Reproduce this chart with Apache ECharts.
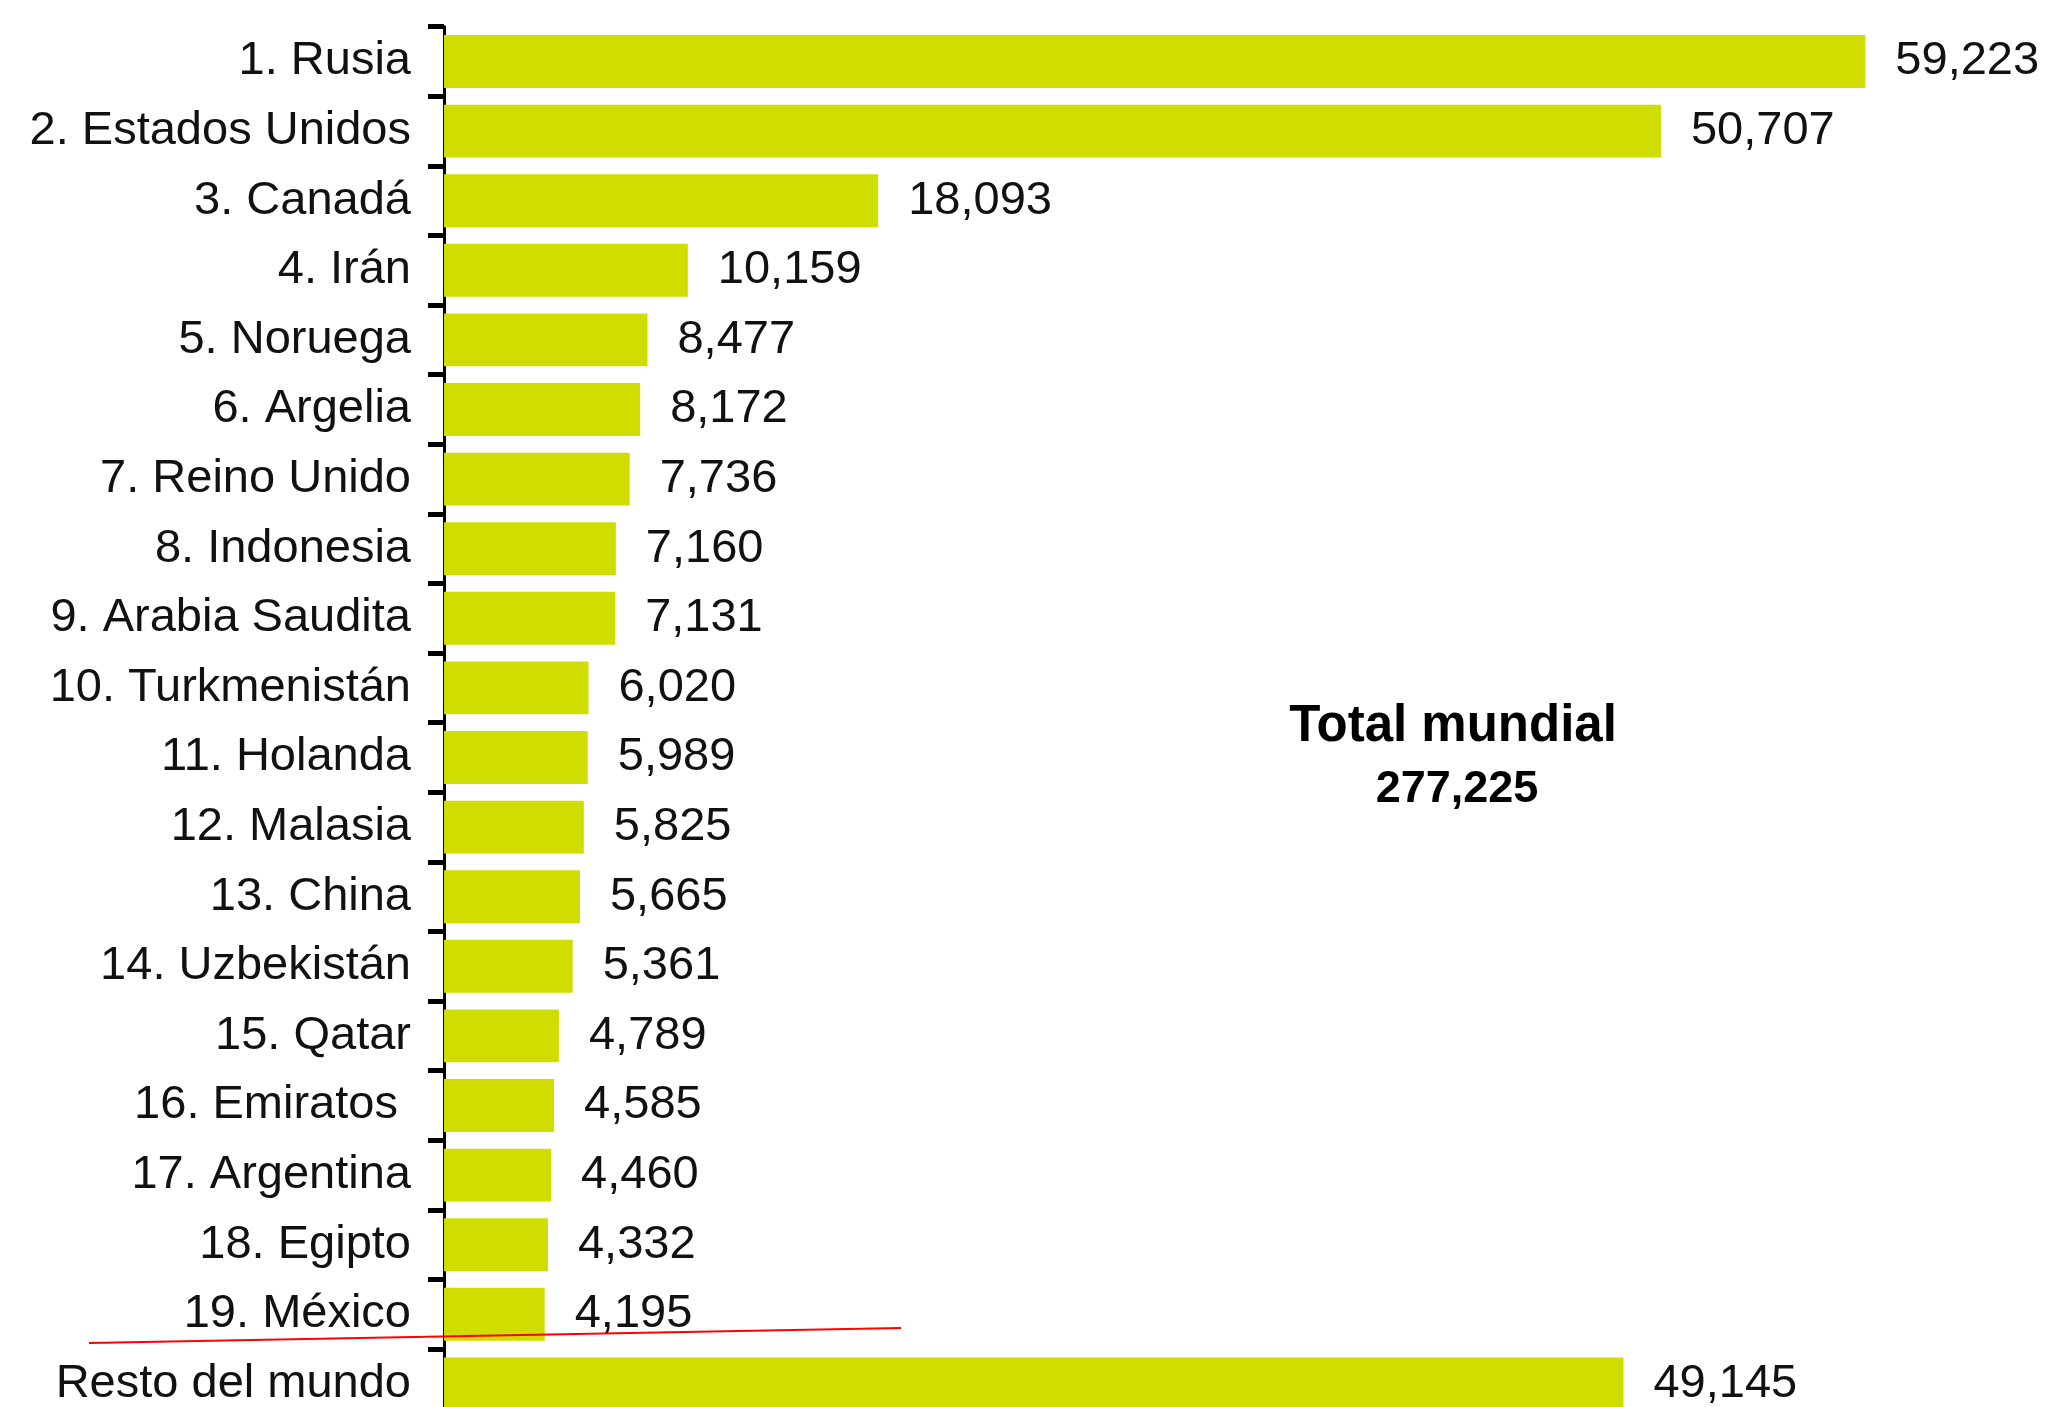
<!DOCTYPE html>
<html>
<head>
<meta charset="utf-8">
<title>Producción de gas natural</title>
<script src="https://cdn.jsdelivr.net/npm/echarts@6/dist/echarts.min.js"></script>
<style>
  html, body { margin: 0; padding: 0; background: #ffffff; }
  #chart { width: 2054px; height: 1407px; }
</style>
</head>
<body>
<div id="chart"></div>
<script>
// Country ranking, top to bottom
const categories = [
  '1. Rusia', '2. Estados Unidos', '3. Canadá', '4. Irán', '5. Noruega',
  '6. Argelia', '7. Reino Unido', '8. Indonesia', '9. Arabia Saudita',
  '10. Turkmenistán', '11. Holanda', '12. Malasia', '13. China',
  '14. Uzbekistán', '15. Qatar', '16. Emiratos ', '17. Argentina',
  '18. Egipto', '19. México', 'Resto del mundo'
];
const values = [
  59223, 50707, 18093, 10159, 8477,
  8172, 7736, 7160, 7131,
  6020, 5989, 5825, 5665,
  5361, 4789, 4585, 4460,
  4332, 4195, 49145
];
const totalLabel = 'Total mundial';
const totalValue = 277225;

const fmt = v => v.toLocaleString('en-US');
const FONT = '"Liberation Sans", Arial, sans-serif';

const chart = echarts.init(document.getElementById('chart'), null, { renderer: 'canvas' });

chart.setOption({
  animation: false,
  backgroundColor: '#ffffff',
  grid: {
    left: 444, top: 26.7, width: 1440, height: 1392,
    containLabel: false,
    outerBoundsMode: 'none'
  },
  xAxis: {
    type: 'value',
    min: 0,
    max: 60000,
    show: false
  },
  yAxis: {
    type: 'category',
    data: categories,
    inverse: true,
    axisLine: { show: true, lineStyle: { color: '#000000', width: 3 } },
    axisTick: { show: true, inside: false, length: 16, lineStyle: { color: '#000000', width: 5 } },
    axisLabel: {
      margin: 33,
      fontFamily: FONT,
      fontSize: 47,
      color: '#111111'
    },
    splitLine: { show: false }
  },
  series: [{
    type: 'bar',
    data: values,
    barCategoryGap: '24%',
    itemStyle: { color: '#cfde00' },
    label: {
      show: true,
      position: 'right',
      distance: 30,
      fontFamily: FONT,
      fontSize: 47,
      color: '#111111',
      formatter: p => fmt(p.value)
    },
    z: 1
  }],
  graphic: [
    {
      type: 'text',
      x: 1453,
      y: 727,
      style: {
        text: totalLabel,
        font: 'bold 51px ' + FONT,
        fill: '#000000',
        align: 'center',
        verticalAlign: 'middle'
      }
    },
    {
      type: 'text',
      x: 1457,
      y: 790,
      style: {
        text: fmt(totalValue),
        font: 'bold 45px ' + FONT,
        fill: '#000000',
        align: 'center',
        verticalAlign: 'middle'
      }
    },
    // hand-drawn separator above "Resto del mundo"
    {
      type: 'line',
      shape: { x1: 89, y1: 1343, x2: 901, y2: 1328 },
      style: { stroke: '#ff0000', lineWidth: 2 },
      z: 10
    }
  ]
});
</script>
</body>
</html>
